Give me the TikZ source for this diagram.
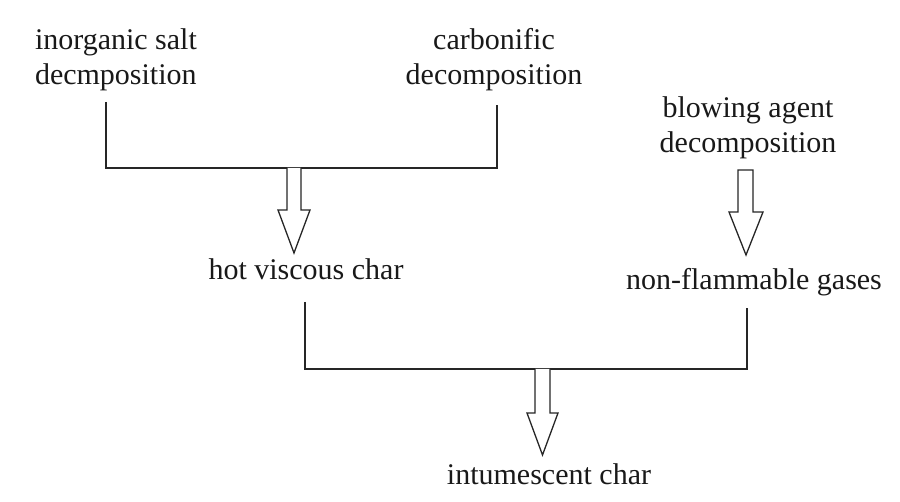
\documentclass[tikz,border=0pt]{standalone}
\usepackage{fontspec}
\setmainfont{Liberation Serif}
\begin{document}
\begin{tikzpicture}[x=1pt,y=-1pt,
  lbl/.style={inner sep=0pt, outer sep=0pt, text=black!90, font=\fontsize{30}{35}\selectfont},
  conn/.style={draw=black!85, line width=1.3pt, line join=miter},
  hollow/.style={draw=black!85, line width=1.3pt, fill=white, line join=miter}]
\useasboundingbox (0,0) rectangle (900,502);
% labels
\node[lbl, anchor=base west] (inorg) at (35,50) {\begin{tabular}[t]{@{}l@{}}inorganic salt\\decmposition\end{tabular}};
\node[lbl, anchor=base] (carb) at (494,50) {\begin{tabular}[t]{@{}c@{}}carbonific\\decomposition\end{tabular}};
\node[lbl, anchor=base] (blow) at (748,118) {\begin{tabular}[t]{@{}c@{}}blowing agent\\decomposition\end{tabular}};
\node[lbl, anchor=base] (hot) at (306,280) {hot viscous char};
\node[lbl, anchor=base] (nonf) at (754,290) {non-flammable gases};
\node[lbl, anchor=base] (intu) at (549,485) {intumescent char};
% connector ends
\coordinate (inorgOut) at (106,102);
\coordinate (carbOut) at (497,105);
\coordinate (hotOut) at (305,302);
\coordinate (nonfOut) at (747,308);
\coordinate (j1) at (294,168);
\coordinate (j2) at (542.5,369);
% bracket connectors
\draw[conn] (inorgOut) |- (j1) -| (carbOut);
\draw[conn] (hotOut) |- (j2) -| (nonfOut);
% hollow arrows
\draw[hollow] ([xshift=-7pt]j1) -- ++(0,42) -- ++(-9,0) -- (294,253) -- (310,210) -- (301,210) -- ([xshift=7pt]j1);
\draw[hollow] (738,170) -- (738,212) -- (729,212) -- (746,255) -- (763,212) -- (753,212) -- (753,170) -- cycle;
\draw[hollow] ([xshift=-7.5pt]j2) -- ++(0,44) -- ++(-8,0) -- (542.5,455) -- (558,413) -- (550,413) -- ([xshift=7.5pt]j2);
\end{tikzpicture}
\end{document}
